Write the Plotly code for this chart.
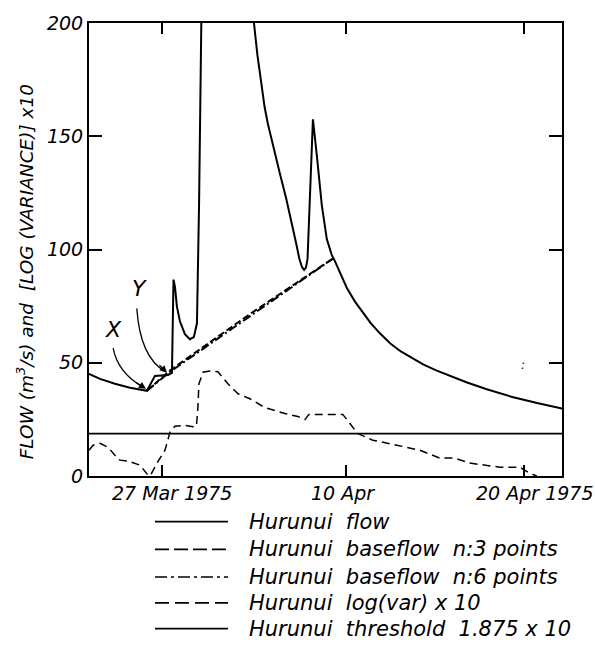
import plotly.graph_objects as go

# ---- data (x in days from start of plotted window) ----
flow_x = [0, 0.84, 1.98, 3.13, 4.42, 5.03, 6.03, 6.33, 6.45, 6.56, 6.71, 6.94, 7.32, 7.70, 8.00, 8.24,
          8.40, 8.54, 8.70, 9.5, 11.5, 12.2, 12.59, 12.85, 13.15, 13.4, 13.65, 14.1, 14.57, 15.05,
          15.48, 15.8, 16.05, 16.25, 16.42, 16.56, 16.68, 17.09, 17.39, 17.77, 18.15, 18.53, 18.76,
          19.25, 19.68, 20.3, 20.9, 21.5, 22.2, 23.0, 23.8, 24.7, 25.5, 26.5, 27.5, 28.8, 30.3,
          32.3, 34.2, 36.1]
flow_y = [45.1, 42.9, 40.7, 39.0, 37.6, 44.2, 44.6, 45.5, 86.7, 83.6, 74.8, 68.3, 62.6, 60.4, 61.3, 67.4,
          120, 200, 260, 380, 300, 240, 200, 186, 172, 163, 155.5, 144, 133.5, 122.5,
          112, 103, 96, 92.3, 91.0, 92.0, 96.0, 157.5, 141.4, 119.5, 104.6, 97.5, 95.0,
          88.5, 83, 77, 72, 67.5, 63, 58.5, 55, 51.8, 49.3, 46.6, 44.3, 41.4, 38.4,
          34.9, 32.2, 29.8]

base3_x = [4.42, 6.18, 12.28, 18.62]
base3_y = [37.6, 46.6, 71.5, 96.0]

base6_x = [4.42, 6.18, 18.62]
base6_y = [37.6, 46.0, 96.0]

logvar_x = [0, 0.31, 0.84, 1.45, 1.98, 2.36, 2.97, 3.89, 4.55, 4.70, 5.19, 5.80, 6.18, 6.56, 7.32, 7.93,
            8.20, 8.31, 8.39, 8.70, 9.23, 9.84, 10.6, 11.37, 12.28, 13.42, 14.95, 15.94, 16.48, 16.78,
            17.62, 18.76, 19.37, 20.5, 21.66, 23.5, 25.25, 26.77, 27.92, 29.06, 31.35, 32.88, 33.6, 34.17]
logvar_y = [11.4, 13.6, 14.4, 12.7, 9.2, 7.0, 6.6, 4.8, 0.0, 0.4, 5.7, 11.4, 19.3, 22.0, 22.3, 21.8,
            22.0, 30.2, 40.7, 45.8, 46.4, 46.0, 40.7, 36.3, 34.1, 30.2, 27.6, 26.3, 24.9, 27.2,
            27.2, 27.2, 27.2, 18.8, 15.8, 13.6, 11.4, 7.9, 7.9, 5.7, 3.9, 3.9, 1.3, 0.0]

threshold_value = 18.75
x_range = [0, 36.1]

tick_pos = [5.6, 19.6, 33.2]
tick_label_pos = [6.33, 19.37, 34.0]
tick_labels = ["27 Mar 1975", "10 Apr", "20 Apr 1975"]

y_ticks = [0, 50, 100, 150, 200]

legend_labels = ["Hurunui  flow",
                 "Hurunui  baseflow  n:3 points",
                 "Hurunui  baseflow  n:6 points",
                 "Hurunui  log(var) x 10",
                 "Hurunui  threshold  1.875 x 10"]
legend_dash = ["solid", "14px,5px", "12px,4px,3px,4px", "14px,6px", "solid"]

FONT = "DejaVu Sans"

fig = go.Figure()
fig.add_trace(go.Scatter(x=flow_x, y=flow_y, mode="lines", line=dict(color="black", width=2),
                         name=legend_labels[0]))
fig.add_trace(go.Scatter(x=base3_x, y=base3_y, mode="lines",
                         line=dict(color="black", width=2, dash="7px,3px"), name=legend_labels[1]))
fig.add_trace(go.Scatter(x=base6_x, y=base6_y, mode="lines",
                         line=dict(color="black", width=2, dash="9px,3px,2px,3px"), name=legend_labels[2]))
fig.add_trace(go.Scatter(x=logvar_x, y=logvar_y, mode="lines",
                         line=dict(color="black", width=1.5, dash="8px,5px"), name=legend_labels[3]))
fig.add_trace(go.Scatter(x=x_range, y=[threshold_value, threshold_value], mode="lines",
                         line=dict(color="black", width=1.8), name=legend_labels[4]))

fig.update_layout(
    width=595, height=646,
    margin=dict(l=89, r=33, t=19, b=170),
    paper_bgcolor="white", plot_bgcolor="white",
    showlegend=False,
    font=dict(family=FONT, size=19, color="black", style="italic"),
)
fig.update_xaxes(range=x_range, showgrid=False, zeroline=False, showline=True, linecolor="black",
                 linewidth=2, mirror="ticks", ticks="inside", ticklen=11, tickwidth=2, tickcolor="black",
                 tickvals=tick_pos, showticklabels=False)
fig.update_yaxes(range=[0, 200], showgrid=False, zeroline=False, showline=True, linecolor="black",
                 linewidth=2, mirror="ticks", ticks="inside", ticklen=13, tickwidth=2, tickcolor="black",
                 tickvals=y_ticks, ticktext=[str(v) for v in y_ticks],
                 tickfont=dict(family=FONT, size=19, style="italic"))

ann = []
for p, t in zip(tick_label_pos, tick_labels):
    ann.append(dict(x=p, y=-0.037, xref="x", yref="paper", text=t, showarrow=False,
                    xanchor="center", yanchor="middle",
                    font=dict(family=FONT, size=19, style="italic")))

ann.append(dict(x=-0.135, y=0.45, xref="paper", yref="paper", textangle=-90,
                text="FLOW (m<sup>3</sup>/s) and  [LOG (VARIANCE)] x10", showarrow=False,
                xanchor="center", yanchor="middle", font=dict(family=FONT, size=18.5, style="italic")))

# X / Y labels with curved arrows
ann.append(dict(x=1.84, y=64.5, xref="x", yref="y", text="X", showarrow=False,
                font=dict(family=FONT, size=22, style="italic")))
ann.append(dict(x=3.89, y=82.8, xref="x", yref="y", text="Y", showarrow=False,
                font=dict(family=FONT, size=22, style="italic")))
ann.append(dict(x=4.35, y=38.5, xref="x", yref="y", ax=-11, ay=-7, text="", showarrow=True,
                arrowhead=2, arrowsize=1.1, arrowwidth=1.3, arrowcolor="black"))
ann.append(dict(x=5.95, y=45.6, xref="x", yref="y", ax=-9, ay=-9, text="", showarrow=True,
                arrowhead=2, arrowsize=1.1, arrowwidth=1.3, arrowcolor="black"))
ann.append(dict(x=33.1, y=49.0, xref="x", yref="y", text=":", showarrow=False,
                font=dict(family=FONT, size=12)))

shapes = [
    dict(type="path", xref="x", yref="y", path="M 1.84,56.5 Q 2.2,45.5 4.2,39.0",
         line=dict(color="black", width=1.3)),
    dict(type="path", xref="x", yref="y", path="M 3.65,74.0 Q 3.9,52.5 5.8,46.2",
         line=dict(color="black", width=1.3)),
]

# manual legend
row_y = [-0.1007, -0.162, -0.223, -0.280, -0.337]
for lab, dsh, yy in zip(legend_labels, legend_dash, row_y):
    shapes.append(dict(type="line", xref="paper", yref="paper", x0=0.1395, x1=0.294, y0=yy, y1=yy,
                       line=dict(color="black", width=1.6, dash=dsh)))
    ann.append(dict(x=0.334, y=yy, xref="paper", yref="paper", text=lab, showarrow=False,
                    xanchor="left", yanchor="middle", font=dict(family=FONT, size=21, style="italic")))

fig.update_layout(annotations=ann, shapes=shapes)
fig.write_html("out.html")
